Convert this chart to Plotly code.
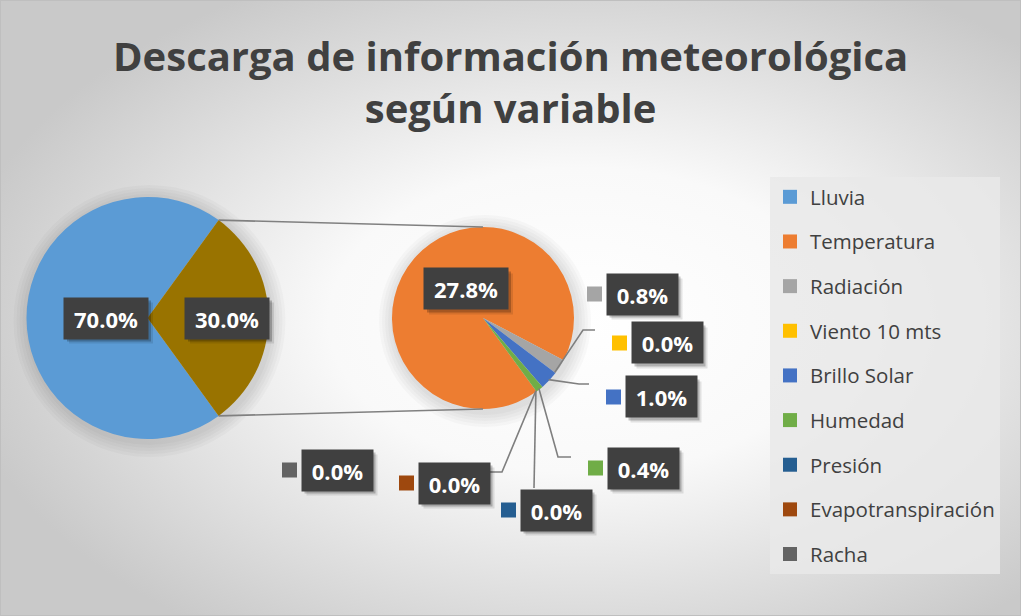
import base64, math
import plotly.graph_objects as go

# ---------------- data ----------------
main_labels = ["Lluvia", "Otros"]
main_values = [70.0, 30.0]
sub_labels = ["Temperatura", "Radiación", "Viento 10 mts", "Brillo Solar",
              "Humedad", "Presión", "Evapotranspiración", "Racha"]
sub_values = [27.8, 0.8, 0.0, 1.0, 0.4, 0.0, 0.0, 0.0]
legend_labels = ["Lluvia"] + sub_labels

colors = {
    "Lluvia": "#5B9BD5", "Otros": "#997300", "Temperatura": "#ED7D31",
    "Radiación": "#A5A5A5", "Viento 10 mts": "#FFC000", "Brillo Solar": "#4472C4",
    "Humedad": "#70AD47", "Presión": "#255E91", "Evapotranspiración": "#9E480E",
    "Racha": "#636363",
}

# ---------------- layout constants (pixels) ----------------
W, H = 1021, 616
ROT = 144
P1 = dict(cx=147.5, cy=318, r=121)
P2 = dict(cx=483, cy=318, r=91)

def px(x):
    return x / W

def py(y):
    return 1 - y / H

def dom(p):
    return dict(x=[px(p["cx"] - p["r"]), px(p["cx"] + p["r"])],
                y=[py(p["cy"] + p["r"]), py(p["cy"] - p["r"])])

def point(p, ang, rr=None):
    rr = p["r"] if rr is None else rr
    a = math.radians(ang)
    return p["cx"] + rr * math.sin(a), p["cy"] - rr * math.cos(a)

def slice_angles(values):
    tot = sum(values)
    out, cum = [], 0.0
    for v in values:
        a0 = ROT + 360 * cum / tot
        cum += v
        a1 = ROT + 360 * cum / tot
        out.append((a0, a1))
    return out

fig = go.Figure()

fig.add_trace(go.Pie(labels=main_labels, values=main_values, sort=False,
                     direction="clockwise", rotation=ROT, domain=dom(P1),
                     marker=dict(colors=[colors[l] for l in main_labels], line=dict(width=0)),
                     textinfo="none", hoverinfo="label+percent", showlegend=False))
fig.add_trace(go.Pie(labels=sub_labels, values=sub_values, sort=False,
                     direction="clockwise", rotation=ROT, domain=dom(P2),
                     marker=dict(colors=[colors[l] for l in sub_labels], line=dict(width=0)),
                     textinfo="none", hoverinfo="label+value", showlegend=False))

# legend entries (Lluvia + second pie categories)
for i, lab in enumerate(legend_labels):
    fig.add_trace(go.Scatter(x=[None], y=[None], mode="markers", name=lab,
                             legendgroup=f"g{i}",
                             marker=dict(symbol="square", size=14, color=colors[lab])))

shapes = []
annotations = []

# soft halo behind pies
for p in (P1, P2):
    for k in range(1, 6):
        rr = p["r"] + 3 * k
        shapes.append(dict(type="circle", xref="paper", yref="paper", layer="below",
                           x0=px(p["cx"] - rr + 2), x1=px(p["cx"] + rr + 2),
                           y0=py(p["cy"] + rr + 3), y1=py(p["cy"] - rr + 3),
                           fillcolor="rgba(0,0,0,0.025)", line=dict(width=0)))

# connectors between pies (edges of "Otros" slice -> top/bottom of second pie)
a_main = slice_angles(main_values)
o0, o1 = a_main[1]
p_top = point(P1, o0)
p_bot = point(P1, o1)
for (x0, y0), (x1, y1) in ((p_top, (P2["cx"], P2["cy"] - P2["r"])),
                           (p_bot, (P2["cx"], P2["cy"] + P2["r"]))):
    shapes.append(dict(type="line", xref="paper", yref="paper",
                       x0=px(x0), y0=py(y0), x1=px(x1), y1=py(y1),
                       line=dict(color="#808080", width=1.6)))

# data labels
main_lab_pos = {"Lluvia": (106, 318), "Otros": (227, 318)}
sub_lab_pos = {"Temperatura": (466, 289), "Radiación": (642, 294),
               "Viento 10 mts": (667, 343), "Brillo Solar": (661, 397),
               "Humedad": (643, 468), "Presión": (556, 510),
               "Evapotranspiración": (454, 483), "Racha": (337, 470)}
leader_pts = {"Viento 10 mts": [(583, 330), (595, 330)],
              "Brillo Solar": [(579, 384), (589, 384)],
              "Humedad": [(558, 457), (571, 457)],
              "Presión": [(534, 488)],
              "Evapotranspiración": [(502, 472), (490, 472)]}

a_sub = slice_angles(sub_values)
for lab, (a0, a1) in zip(sub_labels, a_sub):
    if lab in leader_pts:
        start = point(P2, (a0 + a1) / 2, P2["r"] - 1)
        pts = [start] + leader_pts[lab]
        path = "M " + " L ".join(f"{px(x):.5f},{py(y):.5f}" for x, y in pts)
        shapes.append(dict(type="path", xref="paper", yref="paper", path=path,
                           line=dict(color="#7f7f7f", width=1.6)))

BOX_H = 41

def add_label(text, cx, cy, key_color=None):
    bw = 84 if len(text) >= 5 else 71
    # shadow
    for off, op in ((3, 0.22), (5, 0.10)):
        shapes.append(dict(type="rect", xref="paper", yref="paper",
                           x0=px(cx - bw / 2 + off), x1=px(cx + bw / 2 + off),
                           y0=py(cy + BOX_H / 2 + off), y1=py(cy - BOX_H / 2 + off),
                           fillcolor=f"rgba(0,0,0,{op})", line=dict(width=0)))
    annotations.append(dict(x=px(cx), y=py(cy), xref="paper", yref="paper",
                            text=f"<b>{text}</b>", showarrow=False,
                            xanchor="center", yanchor="middle",
                            width=bw, height=BOX_H, borderpad=0,
                            bgcolor="#404040",
                            font=dict(family="Open Sans", size=22, color="#ffffff")))
    if key_color:
        kx = cx - bw / 2 - 12
        shapes.append(dict(type="rect", xref="paper", yref="paper",
                           x0=px(kx - 7.5), x1=px(kx + 7.5),
                           y0=py(cy + 7.5), y1=py(cy - 7.5),
                           fillcolor=key_color, line=dict(width=0)))

for lab, v in zip(main_labels, main_values):
    add_label(f"{v:.1f}%", *main_lab_pos[lab])
for lab, v in zip(sub_labels, sub_values):
    add_label(f"{v:.1f}%", *sub_lab_pos[lab],
              key_color=None if lab == "Temperatura" else colors[lab])

# title
annotations.append(dict(x=0.5, y=py(81), xref="paper", yref="paper", showarrow=False,
                        xanchor="center", yanchor="middle",
                        text="<b>Descarga de información meteorológica<br>según variable</b>",
                        font=dict(family="Open Sans", size=40, color="#404040")))

# frame border
shapes.append(dict(type="rect", xref="paper", yref="paper", x0=0, x1=1, y0=0, y1=1,
                   line=dict(color="#bfbfbf", width=2), layer="below"))

svg = ('<svg xmlns="http://www.w3.org/2000/svg" width="1021" height="616" viewBox="0 0 1021 616" '
       'preserveAspectRatio="none"><defs><radialGradient id="g" cx="0.57" cy="0.52" r="0.62">'
       '<stop offset="0" stop-color="#ffffff"/><stop offset="0.4" stop-color="#f9f9f9"/>'
       '<stop offset="1" stop-color="#c9c9c9"/></radialGradient></defs>'
       '<rect width="1021" height="616" fill="url(#g)"/></svg>')
bg_src = "data:image/svg+xml;base64," + base64.b64encode(svg.encode()).decode()

fig.update_layout(
    width=W, height=H, autosize=False,
    margin=dict(l=0, r=0, t=0, b=0),
    paper_bgcolor="#e6e6e6", plot_bgcolor="rgba(0,0,0,0)",
    xaxis=dict(visible=False), yaxis=dict(visible=False),
    images=[dict(source=bg_src, xref="paper", yref="paper", x=0, y=1,
                 sizex=1, sizey=1, xanchor="left", yanchor="top",
                 sizing="stretch", layer="below")],
    shapes=shapes, annotations=annotations,
    legend=dict(x=px(770), y=py(177), xanchor="left", yanchor="top",
                bgcolor="rgba(233,233,233,0.85)", borderwidth=0,
                font=dict(family="Open Sans", size=20.5, color="#404040"),
                tracegroupgap=15, itemclick=False, itemdoubleclick=False),
    showlegend=True,
)

fig.write_html("out.html", config={"displayModeBar": False},
               post_script="document.body.style.margin='0';document.body.style.padding='0';"
                           "document.body.style.overflow='hidden';")
